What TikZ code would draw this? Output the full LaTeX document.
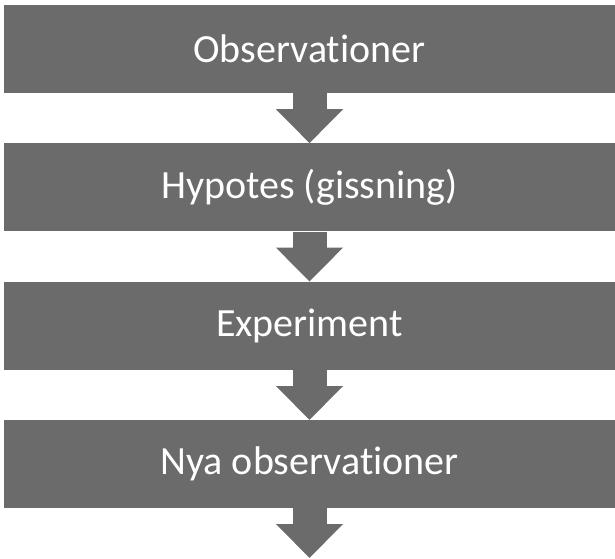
\documentclass[tikz,border=0pt]{standalone}
\usepackage{fontspec}
\setmainfont{Carlito}[Ligatures=NoCommon]
\usetikzlibrary{arrows.meta, positioning}
\definecolor{stepgray}{RGB}{107, 107, 107}

\begin{document}
\begin{tikzpicture}[
			x=1pt, y=-1pt,
			node distance=50pt,
			stepbox/.style={rectangle, fill=stepgray, text=white, minimum width=611pt, minimum height=88pt, inner sep=0pt, font=\fontsize{40}{44}\selectfont},
			flow/.style={-{Triangle[length=34pt 0, width=65pt 0]}, line width=34pt, draw=stepgray}
		]
		\useasboundingbox (0,0) rectangle (615,558);
		% Steps
		\node[stepbox] (obs) at (309.5,49) {Observationer};
		\node[stepbox, below=of obs] (hyp) {Hypotes (gissning)};
		\node[stepbox, below=of hyp] (exp) {Experiment};
		\node[stepbox, below=of exp] (nya) {Nya observationer};
		\coordinate (end) at (309.5,558);
		
		\draw[flow] (obs) -- (hyp.north);
		\draw[flow] (hyp) -- (exp.north);
		\draw[flow] (exp) -- (nya.north);
		\draw[flow] (nya) -- (end);
		\end{tikzpicture}
\end{document}
